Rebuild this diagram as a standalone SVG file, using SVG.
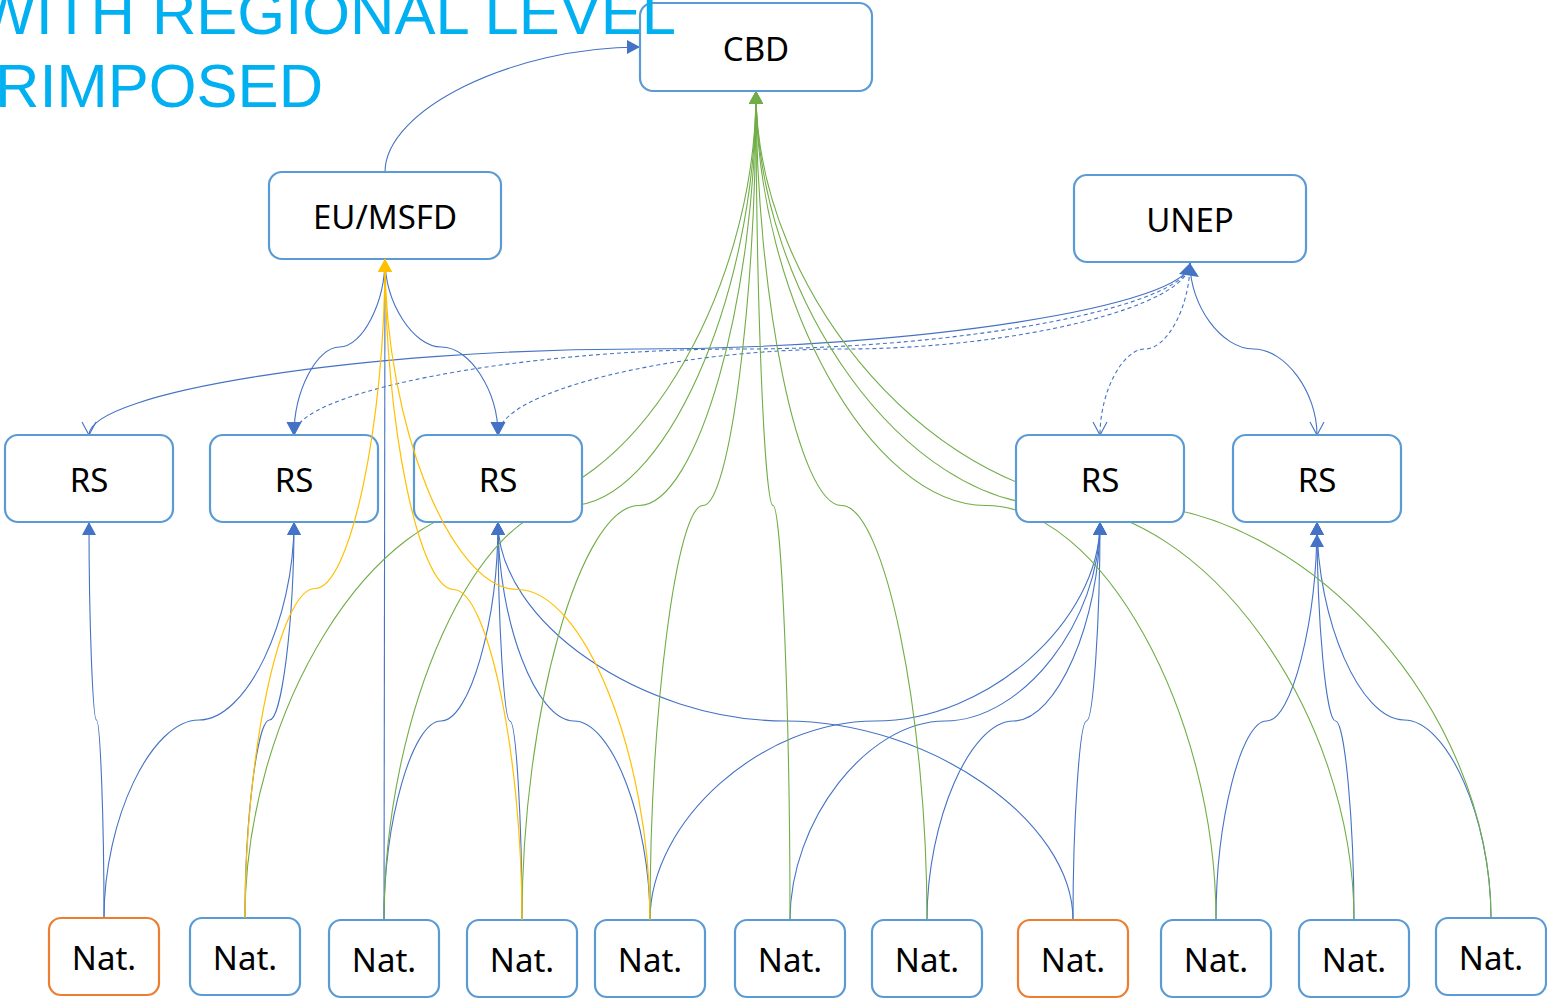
<svg xmlns="http://www.w3.org/2000/svg" width="1547" height="999" viewBox="0 0 1547 999">
<style>
.box{fill:#fff;stroke:#5B9BD5;stroke-width:2.2}
.org{fill:#fff;stroke:#ED7D31;stroke-width:2.2}
.lbl{font-family:"Noto Sans","Open Sans","DejaVu Sans",sans-serif;font-size:33px;fill:#000;text-anchor:middle}
.title{font-family:"Liberation Sans",Arial,sans-serif;font-size:61.5px;fill:#00B0F0}
.b{fill:none;stroke:#4472C4;stroke-width:1.1}
.g{fill:none;stroke:#70AD47;stroke-width:1.1}
.y{fill:none;stroke:#FFC000;stroke-width:1.2}
.d{stroke-dasharray:4 3}
</style>
<defs>
<marker id="aB" markerUnits="userSpaceOnUse" markerWidth="14" markerHeight="14" viewBox="0 0 14 14" refX="13" refY="7" orient="auto"><path d="M0,0 L13,7 L0,14 Z" fill="#4472C4"/></marker>
<marker id="aG" markerUnits="userSpaceOnUse" markerWidth="14" markerHeight="14" viewBox="0 0 14 14" refX="13" refY="7" orient="auto"><path d="M0,0 L13,7 L0,14 Z" fill="#70AD47"/></marker>
<marker id="aY" markerUnits="userSpaceOnUse" markerWidth="14" markerHeight="14" viewBox="0 0 14 14" refX="13" refY="7" orient="auto"><path d="M0,0 L13,7 L0,14 Z" fill="#FFC000"/></marker>
<marker id="oB" markerUnits="userSpaceOnUse" markerWidth="16" markerHeight="16" viewBox="-1 -1 16 16" refX="13" refY="7" orient="auto" overflow="visible"><path d="M0,0 L13,7 L0,14" fill="none" stroke="#4472C4" stroke-width="1.1"/></marker>
</defs>

<g id="connectors">
<!-- EU/MSFD to CBD -->
<path class="b" d="M385,172 C385,110 512,47 640,47" marker-end="url(#aB)"/>
<!-- EU/MSFD to RS -->
<path class="b" d="M385,259 C385,303 362.25,347 339.5,347 C316.75,347 294,391 294,435" marker-end="url(#aB)"/>
<path class="b" d="M385,259 C385,303 413.25,347 441.5,347 C469.75,347 498,391 498,435" marker-end="url(#aB)"/>
<!-- UNEP to RS -->
<path class="b" d="M1190,263 C1190,306 914.75,349 639.5,349 C364.25,349 89,392 89,435" marker-end="url(#oB)"/>
<path class="b d" d="M1190,263 C1190,306 966,349 742,349 C518,349 294,392 294,435" marker-end="url(#oB)"/>
<path class="b d" d="M1190,263 C1190,306 1017,349 844,349 C671,349 498,392 498,435" marker-end="url(#oB)"/>
<path class="b d" d="M1190,263 C1190,306 1167.5,349 1145,349 C1122.5,349 1100,392 1100,435" marker-end="url(#oB)"/>
<path class="b" d="M1190,263 C1190,306 1221.75,349 1253.5,349 C1285.25,349 1317,392 1317,435" marker-end="url(#oB)"/>
<polygon points="1190,263 1199,277 1179,274" fill="#4472C4"/>
<!-- Nat to EU/MSFD -->
<path class="b" d="M384,920 L385,259"/>
<!-- Nat to RS -->
<path class="b" d="M104,918 C104,819 100.25,720 96.5,720 C92.75,720 89,621 89,522" marker-end="url(#aB)"/>
<path class="b" d="M104,918 C104,819 151.5,720 199,720 C246.5,720 294,621 294,522" marker-end="url(#aB)"/>
<path class="b" d="M245,918 C245,819 257.25,720 269.5,720 C281.75,720 294,621 294,522" marker-end="url(#aB)"/>
<path class="b" d="M384,920 C384,820.5 412.5,721 441,721 C469.5,721 498,621.5 498,522" marker-end="url(#aB)"/>
<path class="b" d="M522,920 C522,820.5 516,721 510,721 C504,721 498,621.5 498,522" marker-end="url(#aB)"/>
<path class="b" d="M650,920 C650,820.5 612,721 574,721 C536,721 498,621.5 498,522" marker-end="url(#aB)"/>
<path class="b" d="M1073,920 C1073,820.5 929.25,721 785.5,721 C641.75,721 498,621.5 498,522" marker-end="url(#aB)"/>
<path class="b" d="M650,920 C650,820.5 762.5,721 875,721 C987.5,721 1100,621.5 1100,522" marker-end="url(#aB)"/>
<path class="b" d="M790,920 C790,820.5 867.5,721 945,721 C1022.5,721 1100,621.5 1100,522" marker-end="url(#aB)"/>
<path class="b" d="M927,920 C927,820.5 970.25,721 1013.5,721 C1056.75,721 1100,621.5 1100,522" marker-end="url(#aB)"/>
<path class="b" d="M1073,920 C1073,820.5 1079.75,721 1086.5,721 C1093.25,721 1100,621.5 1100,522" marker-end="url(#aB)"/>
<path class="b" d="M1216,920 C1216,820.5 1241.25,721 1266.5,721 C1291.75,721 1317,621.5 1317,522" marker-end="url(#aB)"/>
<path class="b" d="M1354,920 C1354,820.5 1344.75,721 1335.5,721 C1326.25,721 1317,621.5 1317,522" marker-end="url(#aB)"/>
<path class="b" d="M1491,918 C1491,819 1447.5,720 1404,720 C1360.5,720 1317,621 1317,522" marker-end="url(#aB)"/>
<polygon points="1317,534 1324,547 1310,547" fill="#4472C4"/>
<!-- Nat to CBD (green) -->
<path class="g" d="M245,918 C245,711.25 372.75,504.5 500.5,504.5 C628.25,504.5 756,297.75 756,91" marker-end="url(#aG)"/>
<path class="g" d="M384,920 C384,712.75 477,505.5 570,505.5 C663,505.5 756,298.25 756,91" marker-end="url(#aG)"/>
<path class="g" d="M522,920 C522,712.75 580.5,505.5 639,505.5 C697.5,505.5 756,298.25 756,91" marker-end="url(#aG)"/>
<path class="g" d="M650,920 C650,712.75 676.5,505.5 703,505.5 C729.5,505.5 756,298.25 756,91" marker-end="url(#aG)"/>
<path class="g" d="M790,920 C790,712.75 781.5,505.5 773,505.5 C764.5,505.5 756,298.25 756,91" marker-end="url(#aG)"/>
<path class="g" d="M927,920 C927,712.75 884.25,505.5 841.5,505.5 C798.75,505.5 756,298.25 756,91" marker-end="url(#aG)"/>
<path class="g" d="M1216,920 C1216,712.75 1101,505.5 986,505.5 C871,505.5 756,298.25 756,91" marker-end="url(#aG)"/>
<path class="g" d="M1354,920 C1354,712.75 1204.5,505.5 1055,505.5 C905.5,505.5 756,298.25 756,91" marker-end="url(#aG)"/>
<path class="g" d="M1491,918 C1491,711.25 1307.25,504.5 1123.5,504.5 C939.75,504.5 756,297.75 756,91" marker-end="url(#aG)"/>
</g>

<g id="cbd"><rect class="box" x="640" y="3" width="232" height="88" rx="13"/><text class="lbl" x="756" y="61">CBD</text></g>
<g id="eu-msfd"><rect class="box" x="269" y="172" width="232" height="87" rx="13"/><text class="lbl" x="385" y="229">EU/MSFD</text></g>
<g id="unep"><rect class="box" x="1074" y="175" width="232" height="87" rx="13"/><text class="lbl" x="1190" y="232">UNEP</text></g>

<g id="rs1"><rect class="box" x="5" y="435" width="168" height="87" rx="13"/><text class="lbl" x="89" y="492">RS</text></g>
<g id="rs2"><rect class="box" x="210" y="435" width="168" height="87" rx="13"/><text class="lbl" x="294" y="492">RS</text></g>
<g id="rs3"><rect class="box" x="414" y="435" width="168" height="87" rx="13"/><text class="lbl" x="498" y="492">RS</text></g>
<g id="rs4"><rect class="box" x="1016" y="435" width="168" height="87" rx="13"/><text class="lbl" x="1100" y="492">RS</text></g>
<g id="rs5"><rect class="box" x="1233" y="435" width="168" height="87" rx="13"/><text class="lbl" x="1317" y="492">RS</text></g>

<g id="nat1"><rect class="org" x="49" y="918" width="110" height="77" rx="12"/><text class="lbl" x="104" y="970">Nat.</text></g>
<g id="nat2"><rect class="box" x="190" y="918" width="110" height="77" rx="12"/><text class="lbl" x="245" y="970">Nat.</text></g>
<g id="nat3"><rect class="box" x="329" y="920" width="110" height="77" rx="12"/><text class="lbl" x="384" y="972">Nat.</text></g>
<g id="nat4"><rect class="box" x="467" y="920" width="110" height="77" rx="12"/><text class="lbl" x="522" y="972">Nat.</text></g>
<g id="nat5"><rect class="box" x="595" y="920" width="110" height="77" rx="12"/><text class="lbl" x="650" y="972">Nat.</text></g>
<g id="nat6"><rect class="box" x="735" y="920" width="110" height="77" rx="12"/><text class="lbl" x="790" y="972">Nat.</text></g>
<g id="nat7"><rect class="box" x="872" y="920" width="110" height="77" rx="12"/><text class="lbl" x="927" y="972">Nat.</text></g>
<g id="nat8"><rect class="org" x="1018" y="920" width="110" height="77" rx="12"/><text class="lbl" x="1073" y="972">Nat.</text></g>
<g id="nat9"><rect class="box" x="1161" y="920" width="110" height="77" rx="12"/><text class="lbl" x="1216" y="972">Nat.</text></g>
<g id="nat10"><rect class="box" x="1299" y="920" width="110" height="77" rx="12"/><text class="lbl" x="1354" y="972">Nat.</text></g>
<g id="nat11"><rect class="box" x="1436" y="918" width="110" height="77" rx="12"/><text class="lbl" x="1491" y="970">Nat.</text></g>

<g id="connectors-yellow">
<!-- Nat to EU/MSFD (yellow), drawn over the boxes -->
<path class="y" d="M245,918 C245,753.25 280,588.5 315,588.5 C350,588.5 385,423.75 385,259" marker-end="url(#aY)"/>
<path class="y" d="M522,920 C522,754.75 487.75,589.5 453.5,589.5 C419.25,589.5 385,424.25 385,259" marker-end="url(#aY)"/>
<path class="y" d="M650,920 C650,754.75 583.75,589.5 517.5,589.5 C451.25,589.5 385,424.25 385,259" marker-end="url(#aY)"/>
</g>

<g id="title">
<text class="title" x="676" y="34" text-anchor="end">WITH REGIONAL LEVEL</text>
<text class="title" x="-5" y="107">RIMPOSED</text>
</g>
</svg>
